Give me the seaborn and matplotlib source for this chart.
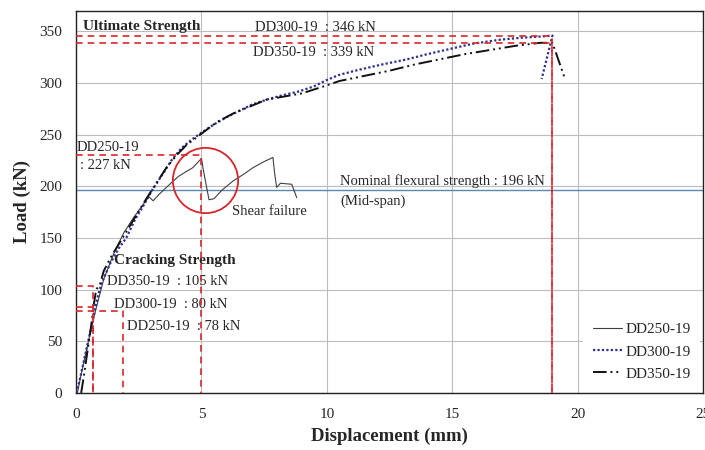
import numpy as np
import pandas as pd
import seaborn as sns
import matplotlib.pyplot as plt

# load-displacement curves
dd250_disp = [0.05, 0.2, 0.4, 0.6, 0.8, 1.1, 1.5, 1.9, 2.3, 2.6, 2.9, 3.07, 3.3, 3.6, 4.1, 4.65,
              5.0, 5.08, 5.3, 5.5, 5.8, 6.25, 6.7, 7.05, 7.5, 7.85, 7.92, 8.0, 8.15, 8.6, 8.8]
dd250_load = [0, 18, 40, 62, 82, 110, 135, 155, 170, 180, 190, 186, 192, 199, 210, 218,
              227, 215, 187, 188, 196, 205, 212, 218, 224, 228, 212, 199, 203, 202, 189]

dd300_disp = [0, 0.1, 0.3, 0.5, 0.7, 0.85, 1.0, 1.35, 1.7, 2.0, 2.35, 2.7, 3.0, 3.4, 3.8, 4.2,
              4.6, 5.0, 5.5, 6.0, 6.5, 7.0, 7.6, 8.2, 8.9, 9.5, 10.0, 10.5, 11.3, 12.2, 13.2,
              14.0, 14.9, 15.8, 16.9, 17.8, 18.5, 19.0, 18.57]
dd300_load = [0, 8, 30, 52, 75, 92, 105, 125, 140, 150, 168, 182, 195, 210, 225, 237,
              245, 252, 260, 267, 273, 279, 284, 288, 292, 297, 303, 308, 313, 318, 323,
              328, 333, 338, 342, 344, 345, 346, 304]

dd350_disp = [0.2, 0.3, 0.45, 0.6, 0.7, 0.8, 0.95, 1.1, 1.4, 1.8, 2.1, 2.4, 2.8, 3.2, 3.6, 4.0,
              4.4, 5.0, 5.6, 6.3, 7.0, 7.6, 8.3, 9.0, 9.9, 10.5, 11.5, 12.5, 13.5, 14.5, 15.5,
              16.5, 17.5, 18.5, 19.0, 19.2, 19.5]
dd350_load = [0, 15, 40, 65, 85, 100, 105, 118, 132, 148, 160, 172, 188, 203, 218, 230,
              240, 251, 262, 271, 278, 284, 287, 290, 297, 302, 307, 312, 318, 323, 328,
              332, 336, 339, 339, 325, 304]

specimens = ["DD250-19", "DD300-19", "DD350-19"]
colors = ["#404040", "#2B2F8F", "#111111"]
dashes = ["", (1, 1), (7, 2, 1, 2, 1, 2)]

# marker lines (displacement, load)
ult_disp = [19.0, 19.0, 5.0]
ult_load = [346, 339, 230]
crack_disp = [0.68, 0.68, 1.85]
crack_load = [103, 83, 79]
nominal = 196
shear_center = (5.15, 206)

df = pd.concat([
    pd.DataFrame({"disp": d, "load": l, "specimen": s})
    for d, l, s in zip([dd250_disp, dd300_disp, dd350_disp],
                       [dd250_load, dd300_load, dd350_load], specimens)
])

sns.set_style("whitegrid")
plt.rcParams["font.family"] = ["Liberation Serif", "DejaVu Serif"]

fig = plt.figure(figsize=(7.05, 4.5), dpi=100)
ax = fig.add_axes([0.108, 0.127, 0.889, 0.849])

sns.lineplot(data=df, x="disp", y="load", hue="specimen", style="specimen",
             palette=dict(zip(specimens, colors)), dashes=dict(zip(specimens, dashes)),
             sort=False, estimator=None, units="specimen", ax=ax, zorder=3)
for line, lw in zip(ax.lines, [0.8, 1.6, 1.4]):
    line.set_linewidth(lw)

red = "#D9262B"
kw = dict(color=red, lw=1.2, ls=(0, (4, 3)), zorder=4)
for x, y in zip(ult_disp + crack_disp, ult_load + crack_load):
    ax.plot([0, x, x], [y, y, 0], **kw)

ax.axhline(nominal, color="#5B87B5", lw=1, zorder=2)
ax.plot([shear_center[0]], [shear_center[1]], "o", ms=47, mfc="none",
        mec=red, mew=1.3, zorder=5)

fs = 10.5
fb = 11
ax.text(0.28, 355, "Ultimate Strength", fontsize=fb, fontweight="bold", va="center")
ax.text(7.14, 354, "DD300-19  : 346 kN", fontsize=fs, va="center")
ax.text(7.06, 330, "DD350-19  : 339 kN", fontsize=fs, va="center")
ax.text(0.0, 237.5, "DD250-19", fontsize=fs, va="center")
ax.text(0.16, 220, ": 227 kN", fontsize=fs, va="center")
ax.text(10.53, 204.6, "Nominal flexural strength : 196 kN", fontsize=fs, va="center")
ax.text(10.53, 186, "(Mid-span)", fontsize=fs, va="center")
ax.text(6.22, 175.5, "Shear failure", fontsize=fs, va="center")
ax.text(1.52, 128, "Cracking Strength", fontsize=fb, fontweight="bold", va="center")
ax.text(1.24, 107.6, "DD350-19  : 105 kN", fontsize=fs, va="center")
ax.text(1.52, 86, "DD300-19  : 80 kN", fontsize=fs, va="center")
ax.text(2.03, 64, "DD250-19  : 78 kN", fontsize=fs, va="center")

ax.set_xlim(0, 25)
ax.set_ylim(0, 370)
ax.set_xticks(np.arange(0, 26, 5))
ax.set_yticks(np.arange(0, 351, 50))
ax.tick_params(axis="y", labelsize=11, length=0, pad=10)
ax.tick_params(axis="x", labelsize=11, length=0, pad=11)
ax.grid(color="#BDBDBD", lw=0.8)
for sp in ax.spines.values():
    sp.set_color("#222222")
    sp.set_linewidth(1)

ax.set_xlabel("Displacement (mm)", fontsize=13.5, fontweight="bold", labelpad=5)
ax.set_ylabel("Load (kN)", fontsize=13.5, fontweight="bold", labelpad=6)

leg = ax.legend(handles=ax.lines[:3], labels=specimens, loc="lower right",
                fontsize=11, frameon=True, framealpha=1, edgecolor="none",
                handlelength=1.9, handletextpad=0.25, borderaxespad=0.2,
                labelspacing=0.55, borderpad=0.6)
leg.get_frame().set_facecolor("white")

fig.savefig("out.png", dpi=100)
